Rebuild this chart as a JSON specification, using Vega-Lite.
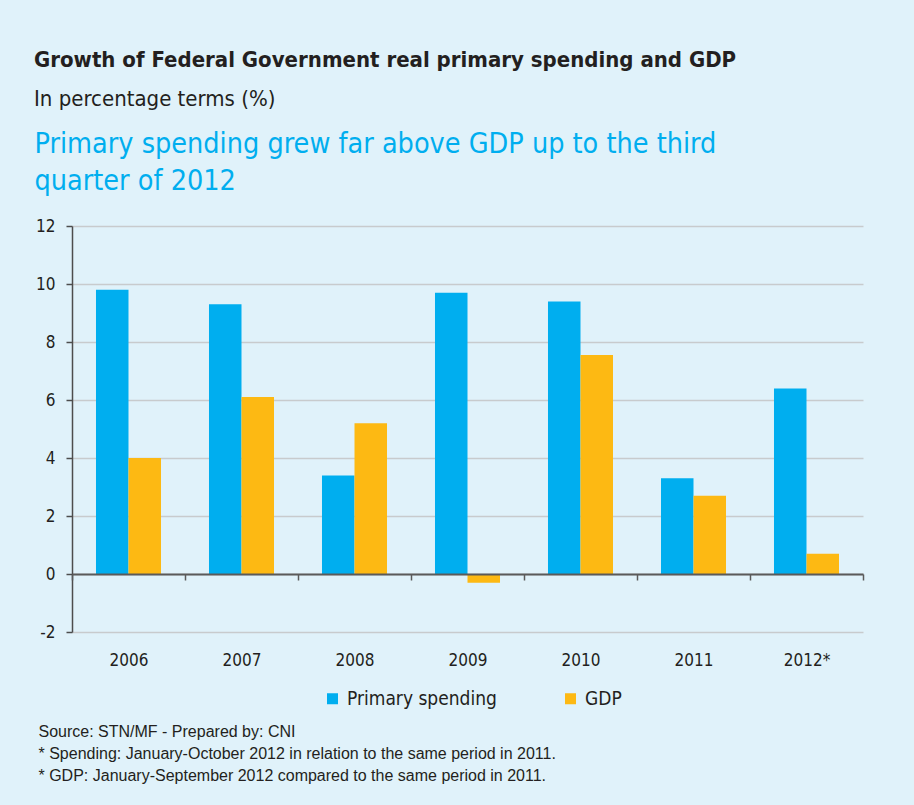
{
  "$schema": "https://vega.github.io/schema/vega-lite/v6.json",
  "autosize": "none",
  "width": 791,
  "height": 406,
  "padding": {"left": 72, "top": 226, "right": 51, "bottom": 173},
  "background": "#e0f2fa",
  "title": {
    "text": "Growth of Federal Government real primary spending and GDP",
    "subtitle": "In percentage terms (%)",
    "anchor": "start",
    "frame": "group",
    "dx": -38,
    "offset": 18,
    "font": "DejaVu Sans Condensed",
    "fontSize": 22,
    "fontWeight": "bold",
    "color": "#231f20",
    "subtitleFont": "DejaVu Sans Condensed",
    "subtitleFontSize": 22,
    "subtitleColor": "#231f20",
    "subtitlePadding": 17
  },
  "data": {
    "values": [
      {"year": "2006", "series": "Primary spending", "value": 9.8},
      {"year": "2006", "series": "GDP", "value": 4.0},
      {"year": "2007", "series": "Primary spending", "value": 9.3},
      {"year": "2007", "series": "GDP", "value": 6.1},
      {"year": "2008", "series": "Primary spending", "value": 3.4},
      {"year": "2008", "series": "GDP", "value": 5.2},
      {"year": "2009", "series": "Primary spending", "value": 9.7},
      {"year": "2009", "series": "GDP", "value": -0.3},
      {"year": "2010", "series": "Primary spending", "value": 9.4},
      {"year": "2010", "series": "GDP", "value": 7.55},
      {"year": "2011", "series": "Primary spending", "value": 3.3},
      {"year": "2011", "series": "GDP", "value": 2.7},
      {"year": "2012*", "series": "Primary spending", "value": 6.4},
      {"year": "2012*", "series": "GDP", "value": 0.7}
    ]
  },
  "mark": {"type": "bar"},
  "encoding": {
    "x": {
      "field": "year",
      "type": "nominal",
      "sort": null,
      "scale": {"paddingInner": 0, "paddingOuter": 0},
      "axis": {
        "orient": "bottom",
        "offset": -58,
        "zindex": 1,
        "domain": true,
        "domainColor": "#5a5a5a",
        "domainWidth": 2,
        "ticks": true,
        "tickBand": "extent",
        "tickSize": 6,
        "tickColor": "#5a5a5a",
        "tickWidth": 1.5,
        "labelAngle": 0,
        "labelFont": "DejaVu Sans Condensed",
        "labelFontSize": 17,
        "labelColor": "#231f20",
        "labelPadding": 72,
        "title": [
          "Source: STN/MF - Prepared by: CNI",
          "* Spending: January-October 2012 in relation to the same period in 2011.",
          "* GDP: January-September 2012 compared to the same period in 2011."
        ],
        "titleFont": "Liberation Sans",
        "titleFontSize": 16,
        "titleFontWeight": "normal",
        "titleColor": "#231f20",
        "titleAlign": "left",
        "titleBaseline": "alphabetic",
        "titleX": -34,
        "titleY": 162,
        "titleLineHeight": 22
      }
    },
    "xOffset": {"field": "series", "type": "nominal", "sort": ["Primary spending", "GDP"], "scale": {"paddingInner": 0, "paddingOuter": 0.738}},
    "y": {
      "field": "value",
      "type": "quantitative",
      "scale": {"domain": [-2, 12], "nice": false, "zero": false},
      "axis": {
        "values": [-2, 0, 2, 4, 6, 8, 10, 12],
        "labelExpr": "'' + datum.value",
        "domain": true,
        "domainColor": "#4d4d4d",
        "domainWidth": 1.5,
        "ticks": true,
        "tickSize": 6,
        "tickColor": "#4d4d4d",
        "tickWidth": 1.5,
        "grid": true,
        "gridColor": "#c8cbcd",
        "gridWidth": 1.5,
        "labelFont": "DejaVu Sans Condensed",
        "labelFontSize": 17,
        "labelColor": "#231f20",
        "labelPadding": 11,
        "title": ["Primary spending grew far above GDP up to the third", "quarter of 2012"],
        "titleFont": "DejaVu Sans Condensed",
        "titleFontSize": 28.5,
        "titleFontWeight": "normal",
        "titleColor": "#00aeef",
        "titleAngle": 0,
        "titleAlign": "left",
        "titleBaseline": "alphabetic",
        "titleX": -38,
        "titleY": -74,
        "titleLineHeight": 37
      }
    },
    "color": {
      "field": "series",
      "type": "nominal",
      "sort": ["Primary spending", "GDP"],
      "scale": {"domain": ["Primary spending", "GDP"], "range": ["#00aeef", "#fdb913"]},
      "legend": {
        "title": null,
        "orient": "none",
        "direction": "horizontal",
        "columns": 2,
        "legendX": 251,
        "legendY": 463,
        "symbolType": "square",
        "symbolSize": 121,
        "symbolStrokeWidth": 0,
        "labelFont": "DejaVu Sans Condensed",
        "labelFontSize": 19,
        "labelColor": "#231f20",
        "labelOffset": 5,
        "columnPadding": 64,
        "padding": 0
      }
    }
  },
  "config": {
    "view": {"stroke": null},
    "bar": {"stroke": null}
  }
}
